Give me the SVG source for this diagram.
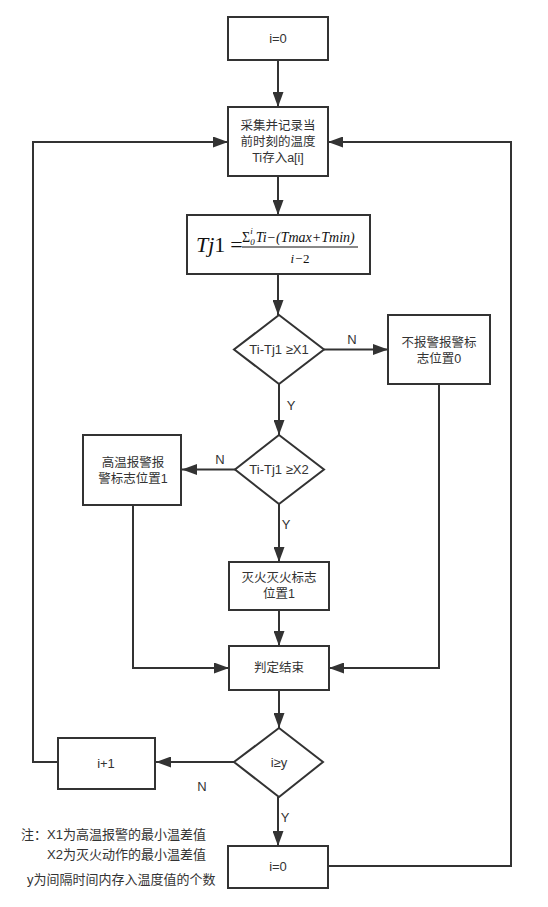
<svg xmlns="http://www.w3.org/2000/svg" width="548" height="907" viewBox="0 0 548 907">
<style>
.box{fill:#fff;stroke:#333;stroke-width:2}
.ln{fill:none;stroke:#333;stroke-width:2}
.t{font-family:"Liberation Sans","Noto Sans CJK SC",sans-serif;font-size:12.5px;fill:#333;text-anchor:middle;dominant-baseline:central}
.lbl{font-family:"Liberation Sans","Noto Sans CJK SC",sans-serif;font-size:13px;fill:#333;text-anchor:middle;dominant-baseline:central}
.note{font-family:"Liberation Sans","Noto Sans CJK SC",sans-serif;font-size:13px;fill:#333;dominant-baseline:central}
.m{font-family:"Liberation Serif","DejaVu Serif",serif;font-style:italic;fill:#111}
</style>
<defs>
<marker id="ah" markerUnits="userSpaceOnUse" markerWidth="15" markerHeight="11" refX="15" refY="5.5" orient="auto">
<path d="M0,0 L15,5.5 L0,11 z" fill="#333"/>
</marker>
</defs>
<rect width="548" height="907" fill="#fff"/>
<g id="connectors">
<path class="ln" d="M278,60 V107" marker-end="url(#ah)"/>
<path class="ln" d="M278,176 V215" marker-end="url(#ah)"/>
<path class="ln" d="M278,274 V315" marker-end="url(#ah)"/>
<path class="ln" d="M324,349.5 H388" marker-end="url(#ah)"/>
<path class="ln" d="M279,384 V435" marker-end="url(#ah)"/>
<path class="ln" d="M235,469.5 H182" marker-end="url(#ah)"/>
<path class="ln" d="M279,504 V562" marker-end="url(#ah)"/>
<path class="ln" d="M279,610 V646" marker-end="url(#ah)"/>
<path class="ln" d="M133,505 V668 H229" marker-end="url(#ah)"/>
<path class="ln" d="M439,384 V668 H329" marker-end="url(#ah)"/>
<path class="ln" d="M279,690 V728" marker-end="url(#ah)"/>
<path class="ln" d="M234,762 H156" marker-end="url(#ah)"/>
<path class="ln" d="M58,762 H33 V142 H228" marker-end="url(#ah)"/>
<path class="ln" d="M278,797 V846" marker-end="url(#ah)"/>
<path class="ln" d="M328,866 H511 V142 H328" marker-end="url(#ah)"/>
<text class="lbl" x="352" y="339">N</text>
<text class="lbl" x="291" y="405">Y</text>
<text class="lbl" x="220" y="459">N</text>
<text class="lbl" x="286" y="524">Y</text>
<text class="lbl" x="202" y="786">N</text>
<text class="lbl" x="285" y="817">Y</text>
</g>
<g id="start">
<rect class="box" x="228" y="17" width="100" height="43"/>
<text class="lbl" x="278" y="38.5">i=0</text>
</g>
<g id="collect">
<rect class="box" x="228" y="107" width="100" height="69"/>
<text class="t" x="278" y="126"><tspan x="278" y="126">采集并记录当</tspan><tspan x="278" y="142">前时刻的温度</tspan><tspan x="278" y="158">Ti存入a[i]</tspan></text>
</g>
<g id="formula">
<rect class="box" x="187" y="215" width="183" height="59"/>
<text class="m" x="196" y="252" font-size="22">Tj<tspan font-style="normal">1</tspan><tspan font-style="normal" dx="5">=</tspan></text>
<text class="m" x="242" y="242" font-size="14"><tspan font-style="normal" font-size="14">Σ</tspan><tspan font-size="9" dy="3">0</tspan><tspan font-size="9" dx="-4.5" dy="-11">i</tspan><tspan dy="8" dx="3">Ti−(Tmax+Tmin)</tspan></text>
<line x1="242" y1="247" x2="358" y2="247" stroke="#111" stroke-width="1"/>
<text class="m" x="300" y="263" font-size="13" text-anchor="middle">i−<tspan font-style="normal">2</tspan></text>
</g>
<g id="decision1">
<polygon class="box" points="279,315 324,349.5 279,384 234,349.5"/>
<text class="lbl" x="279" y="349.5">Ti-Tj1 ≥X1</text>
</g>
<g id="noalarm">
<rect class="box" x="388" y="315" width="102" height="69"/>
<text class="t" x="439" y="343"><tspan x="439" y="343">不报警报警标</tspan><tspan x="439" y="359">志位置0</tspan></text>
</g>
<g id="decision2">
<polygon class="box" points="279,435 324,469.5 279,504 235,469.5"/>
<text class="lbl" x="279" y="469.5">Ti-Tj1 ≥X2</text>
</g>
<g id="highalarm">
<rect class="box" x="83" y="435" width="98" height="70"/>
<text class="t" x="133" y="463"><tspan x="133" y="463">高温报警报</tspan><tspan x="133" y="479">警标志位置1</tspan></text>
</g>
<g id="fire">
<rect class="box" x="229" y="562" width="100" height="48"/>
<text class="t" x="279" y="578"><tspan x="279" y="578">灭火灭火标志</tspan><tspan x="279" y="594">位置1</tspan></text>
</g>
<g id="end">
<rect class="box" x="229" y="646" width="100" height="44"/>
<text class="t" x="279" y="668">判定结束</text>
</g>
<g id="decision3">
<polygon class="box" points="279,728 323,762 279,797 234,762"/>
<text class="lbl" x="279" y="762">i≥y</text>
</g>
<g id="inc">
<rect class="box" x="58" y="738" width="97" height="51"/>
<text class="lbl" x="106" y="763">i+1</text>
</g>
<g id="reset">
<rect class="box" x="228" y="846" width="100" height="42"/>
<text class="lbl" x="278" y="866">i=0</text>
</g>
<g id="note">
<text class="note" x="21" y="834">注：X1为高温报警的最小温差值</text>
<text class="note" x="47" y="854">X2为灭火动作的最小温差值</text>
<text class="note" x="27" y="879">y为间隔时间内存入温度值的个数</text>
</g>
</svg>
